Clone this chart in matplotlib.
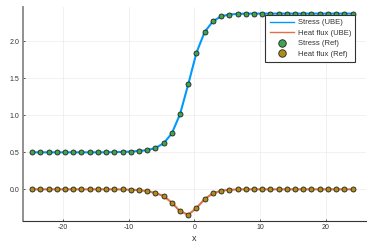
import numpy as np
import matplotlib
matplotlib.use("Agg")
import matplotlib.pyplot as plt

plt.rcParams['font.family'] = ['Liberation Sans', 'DejaVu Sans']
plt.rcParams['axes.unicode_minus'] = False

# sample positions (uniform grid)
x_pts = np.linspace(-24.7, 24.05, 40)

# stress
stress = [0.5, 0.5, 0.5, 0.5, 0.5, 0.5, 0.5, 0.5, 0.5, 0.501,
          0.503, 0.506, 0.51, 0.518, 0.53, 0.558, 0.622, 0.756, 1.016, 1.42,
          1.847, 2.127, 2.27, 2.338, 2.362, 2.371, 2.374, 2.375, 2.375, 2.375,
          2.375, 2.375, 2.375, 2.375, 2.375, 2.375, 2.375, 2.375, 2.375, 2.375]

# heat flux
heat = [0.0, 0.0, 0.0, 0.0, 0.0, 0.0, 0.0, 0.0, 0.0, 0.0,
        0.0, -0.002, -0.005, -0.011, -0.023, -0.05, -0.091, -0.18, -0.297, -0.343,
        -0.253, -0.131, -0.054, -0.019, -0.006, -0.002, 0.0, 0.0, 0.0, 0.0,
        0.0, 0.0, 0.0, 0.0, 0.0, 0.0, 0.0, 0.0, 0.0, 0.0]

xticks = [-20, -10, 0, 10, 20]
yticks = [0.0, 0.5, 1.0, 1.5, 2.0]

fig = plt.figure(figsize=(3.74, 2.49), dpi=100)
ax = fig.add_axes([0.0615, 0.1124, 0.9171, 0.8595])

ax.plot(x_pts, stress, color='#009AFA', lw=1.5, label='Stress (UBE)', zorder=2)
ax.plot(x_pts, heat, color='#E36F47', lw=1.5, label='Heat flux (UBE)', zorder=2)
ax.plot(x_pts, stress, ls='none', marker='o', ms=3.6, mfc='#3EA44E', mec='#222222',
        mew=0.6, label='Stress (Ref)', zorder=3)
ax.plot(x_pts, heat, ls='none', marker='o', ms=3.6, mfc='#AC8E18', mec='#222222',
        mew=0.6, label='Heat flux (Ref)', zorder=3)

ax.set_xlim(-26.1, 26.1)
ax.set_ylim(-0.428, 2.464)
ax.set_xticks(xticks)
ax.set_xticklabels([str(t) for t in xticks])
ax.set_yticks(yticks)
ax.set_yticklabels(['%.1f' % t for t in yticks])
ax.tick_params(direction='in', length=1.6, width=0.6, labelsize=5, colors='#333333', pad=2.5)
ax.grid(True, color='#EBEBEB', lw=0.5)
ax.set_axisbelow(True)

for s in ['top', 'right']:
    ax.spines[s].set_visible(False)
ax.spines['left'].set_color('#888888')
ax.spines['left'].set_linewidth(1.3)
ax.spines['bottom'].set_color('#333333')
ax.spines['bottom'].set_linewidth(0.8)

ax.set_xlabel('x', fontsize=6.5, color='#333333', labelpad=1.5)

leg = ax.legend(loc='upper right', bbox_to_anchor=(0.969, 0.963), borderaxespad=0,
                fontsize=5.5, handlelength=3.2, handletextpad=0.5, labelspacing=0.4,
                borderpad=0.55, fancybox=False, framealpha=1, markerscale=1.5)
leg.get_frame().set_edgecolor('#333333')
leg.get_frame().set_linewidth(0.8)
for t in leg.get_texts():
    t.set_color('#333333')
for h in leg.get_lines()[:2]:
    h.set_linewidth(1.0)

fig.savefig('out.png', dpi=100)
